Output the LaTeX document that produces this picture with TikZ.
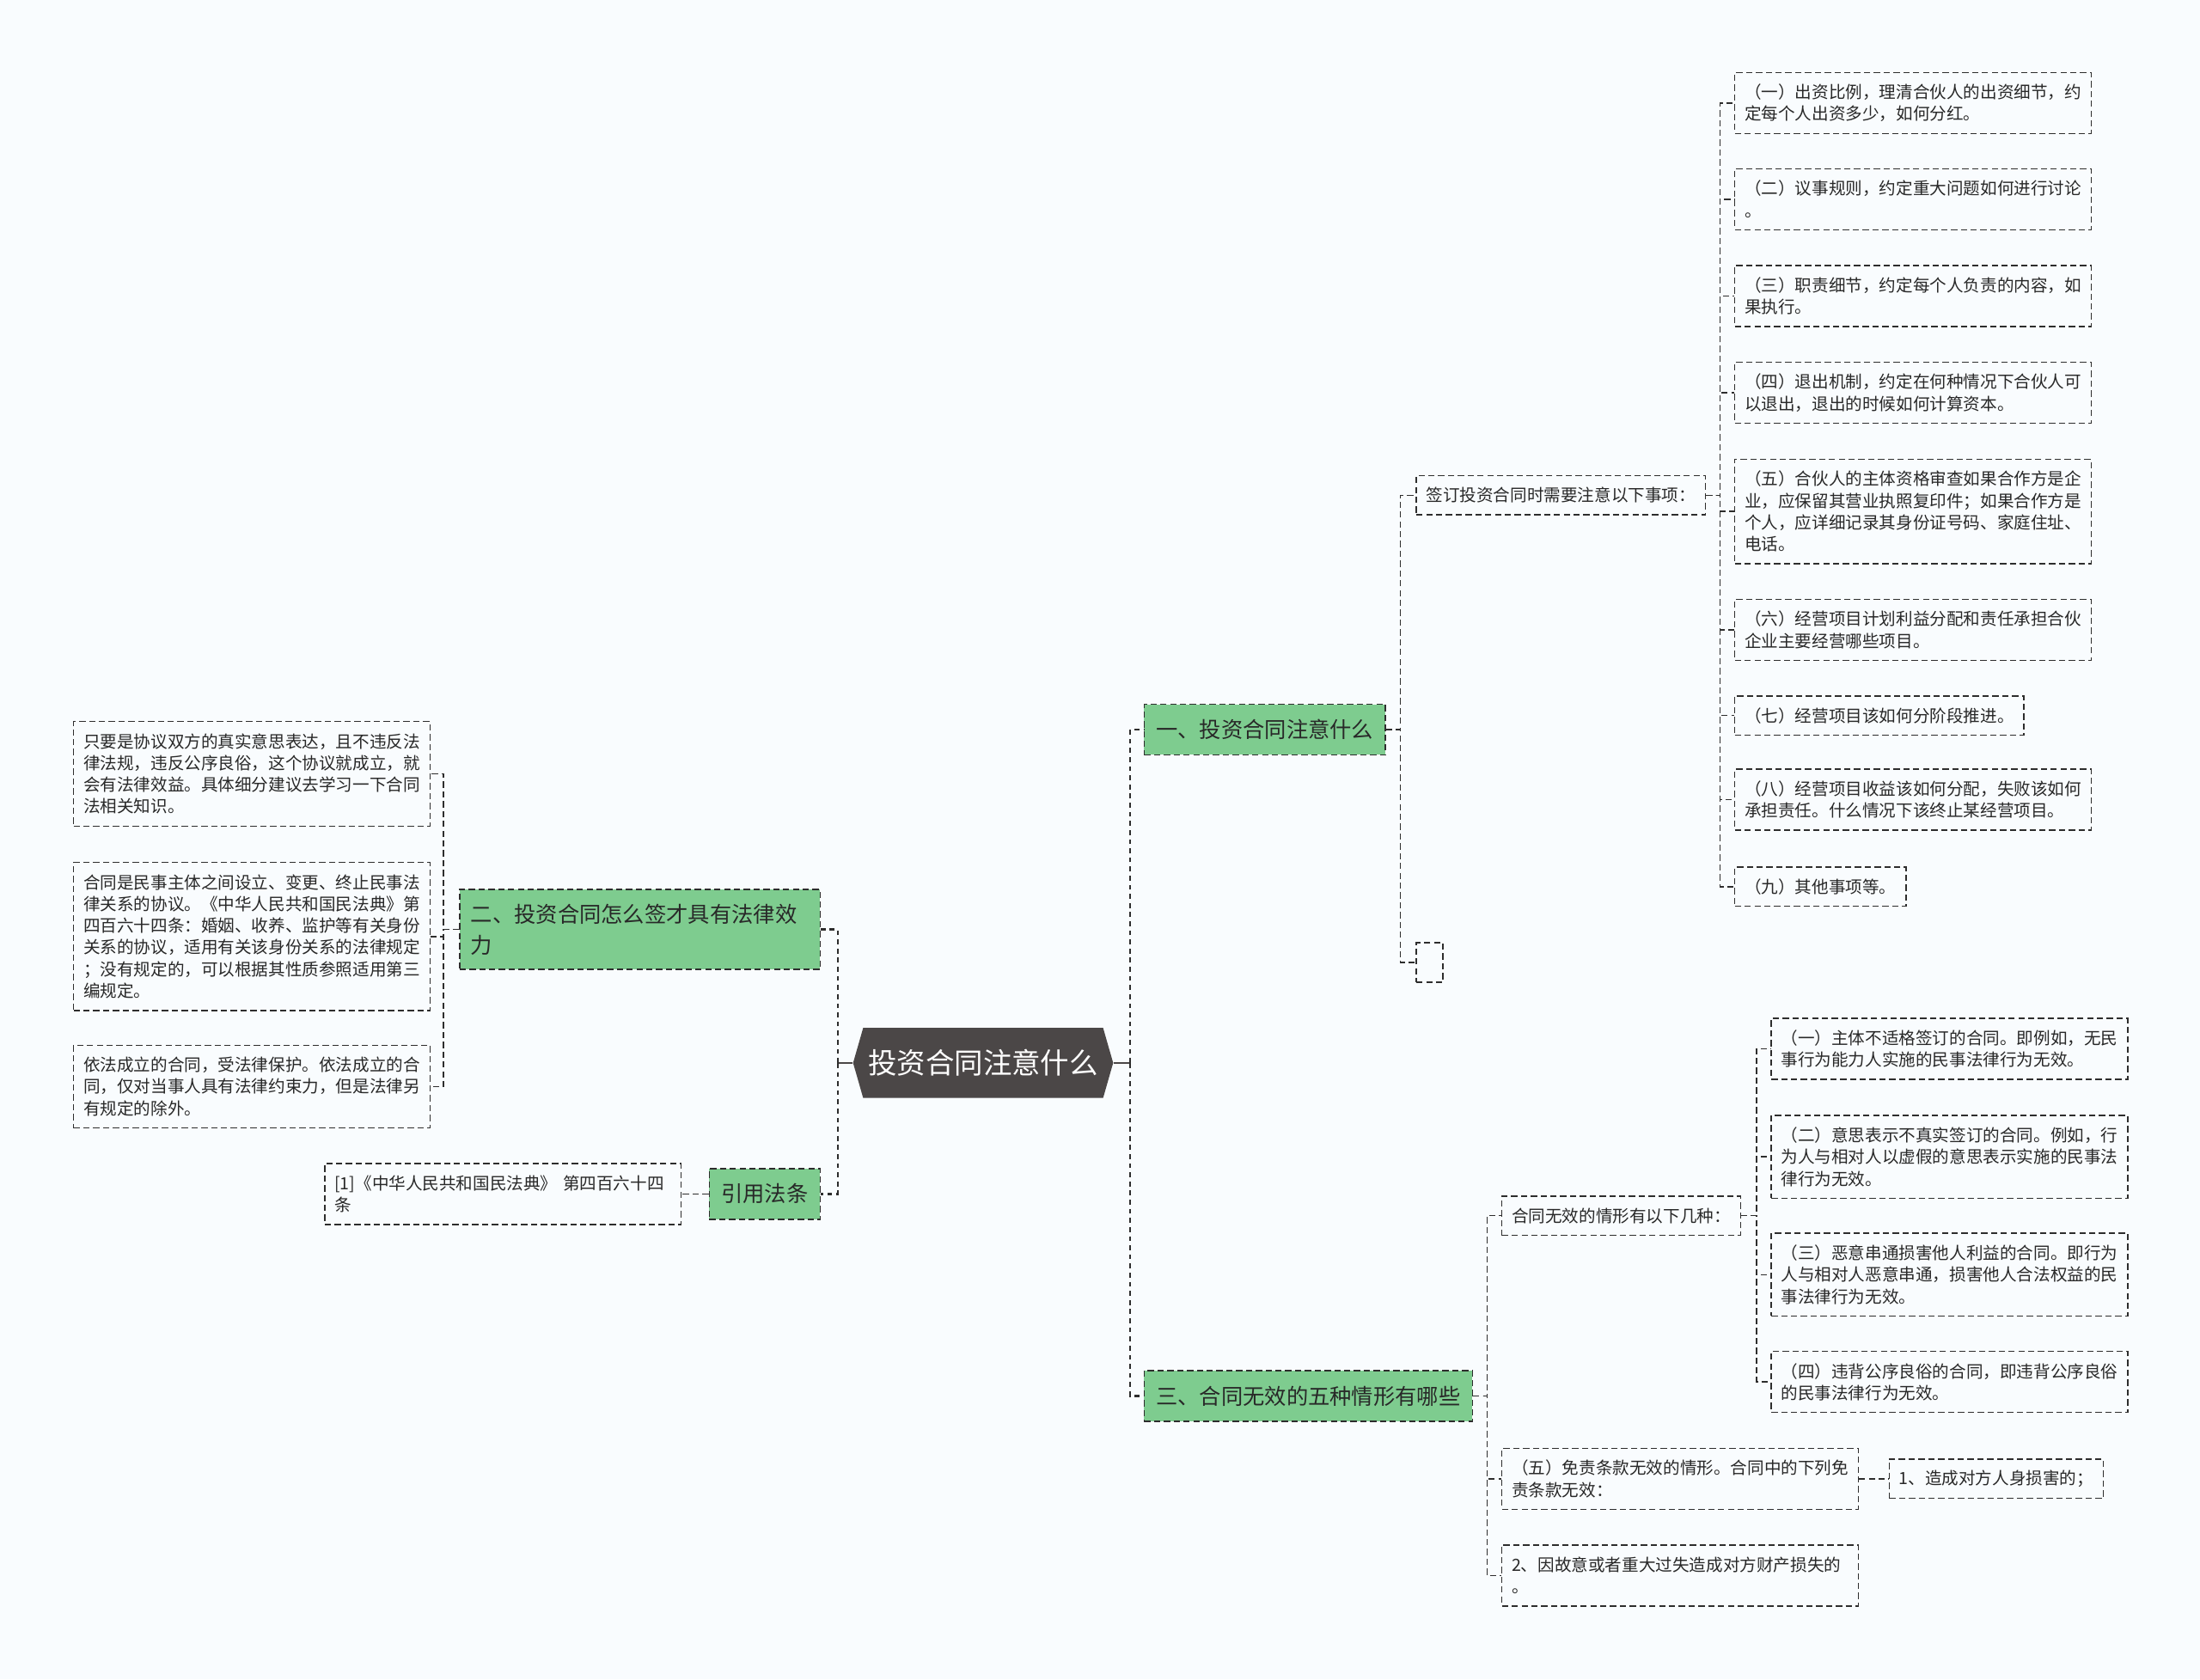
\documentclass[tikz,border=0pt]{standalone}
\usepackage{fontspec}
\setmainfont{Noto Sans CJK SC}
\usetikzlibrary{shapes.symbols}
\definecolor{bgcol}{RGB}{249,252,254}
\definecolor{branchgreen}{RGB}{126,204,143}
\definecolor{rootgray}{RGB}{75,71,71}
\definecolor{linegray}{RGB}{45,45,45}
\definecolor{textgray}{RGB}{40,40,40}

\begin{document}
\begin{tikzpicture}[x=1pt,y=-1pt,
  link/.style={draw=linegray,line width=0.9pt,dash pattern=on 4.5pt off 2.5pt},
  trunk/.style={draw=linegray,line width=1.5pt,dash pattern=on 3.5pt off 3pt},
  rootlink/.style={draw=rootgray,line width=1.6pt},
  leaf/.style={link,anchor=west,align=left,text=textgray,inner xsep=7pt,inner ysep=0pt,font=\fontsize{12}{15.5}\selectfont},
  wide/.style={text width=240pt},
  lines/.style={minimum height=12.5pt+#1*15.5pt},
  branch/.style={link,fill=branchgreen,anchor=west,align=left,text=textgray,inner xsep=8.5pt,inner ysep=0pt,minimum height=36pt,font=\fontsize{15.5}{22}\selectfont},
  root/.style={shape=signal,signal to=west and east,signal pointer angle=148,fill=rootgray,text=white,minimum height=50pt,inner xsep=3.5pt,inner ysep=0pt,font=\fontsize{20.5}{24}\selectfont}]
  \fill[bgcol] (0,0) rectangle (1568,1197);

  \node[root] (root) at (700.7,757.6) {投资合同注意什么};

  \node[branch] (b1) at (815,520) {一、投资合同注意什么};
  \node[branch] (b3) at (815,995) {三、合同无效的五种情形有哪些};
  \node[branch,anchor=east,text width=241pt,minimum height=57pt,inner xsep=8pt] (b2) at (585,662.5) {二、投资合同怎么签才具有法律效\\力};
  \node[branch,anchor=east] (b4) at (585,851) {引用法条};

  \node[leaf,lines=1] (c1) at (1009,353) {签订投资合同时需要注意以下事项：};
  \node[leaf,lines=1,minimum width=19pt] (c2) at (1009,686) {};

  \node[leaf,wide,lines=2] (d1) at (1236,73.5) {（一）出资比例，理清合伙人的出资细节，约\\定每个人出资多少，如何分红。};
  \node[leaf,wide,lines=2] (d2) at (1236,142) {（二）议事规则，约定重大问题如何进行讨论\\。};
  \node[leaf,wide,lines=2] (d3) at (1236,211) {（三）职责细节，约定每个人负责的内容，如\\果执行。};
  \node[leaf,wide,lines=2] (d4) at (1236,280) {（四）退出机制，约定在何种情况下合伙人可\\以退出，退出的时候如何计算资本。};
  \node[leaf,wide,lines=4] (d5) at (1236,364.5) {（五）合伙人的主体资格审查如果合作方是企\\业，应保留其营业执照复印件；如果合作方是\\个人，应详细记录其身份证号码、家庭住址、\\电话。};
  \node[leaf,wide,lines=2] (d6) at (1236,449) {（六）经营项目计划利益分配和责任承担合伙\\企业主要经营哪些项目。};
  \node[leaf,lines=1] (d7) at (1236,510) {（七）经营项目该如何分阶段推进。};
  \node[leaf,wide,lines=2] (d8) at (1236,570) {（八）经营项目收益该如何分配，失败该如何\\承担责任。什么情况下该终止某经营项目。};
  \node[leaf,lines=1] (d9) at (1236,632) {（九）其他事项等。};

  \node[leaf,lines=1] (e1) at (1070,866.5) {合同无效的情形有以下几种：};
  \node[leaf,wide,lines=2] (e2) at (1070,1054) {（五）免责条款无效的情形。合同中的下列免\\责条款无效：};
  \node[leaf,wide,lines=2] (e3) at (1070,1123) {2、因故意或者重大过失造成对方财产损失的\\。};

  \node[leaf,wide,lines=2] (f1) at (1262,747.5) {（一）主体不适格签订的合同。即例如，无民\\事行为能力人实施的民事法律行为无效。};
  \node[leaf,wide,lines=3] (f2) at (1262,824.5) {（二）意思表示不真实签订的合同。例如，行\\为人与相对人以虚假的意思表示实施的民事法\\律行为无效。};
  \node[leaf,wide,lines=3] (f3) at (1262,908.5) {（三）恶意串通损害他人利益的合同。即行为\\人与相对人恶意串通，损害他人合法权益的民\\事法律行为无效。};
  \node[leaf,wide,lines=2] (f4) at (1262,985) {（四）违背公序良俗的合同，即违背公序良俗\\的民事法律行为无效。};

  \node[leaf,lines=1] (g1) at (1346,1054) {1、造成对方人身损害的；};

  \node[leaf,wide,lines=4] (h1) at (52,551.5) {只要是协议双方的真实意思表达，且不违反法\\律法规，违反公序良俗，这个协议就成立，就\\会有法律效益。具体细分建议去学习一下合同\\法相关知识。};
  \node[leaf,wide,lines=6] (h2) at (52,667.5) {合同是民事主体之间设立、变更、终止民事法\\律关系的协议。《中华人民共和国民法典》第\\四百六十四条：婚姻、收养、监护等有关身份\\关系的协议，适用有关该身份关系的法律规定\\；没有规定的，可以根据其性质参照适用第三\\编规定。};
  \node[leaf,wide,lines=3] (h3) at (52,774.5) {依法成立的合同，受法律保护。依法成立的合\\同，仅对当事人具有法律约束力，但是法律另\\有规定的除外。};

  \node[leaf,wide,lines=2] (k1) at (231,851) {[1]《中华人民共和国民法典》 第四百六十四\\条};

  \draw[rootlink] (root.east) -- ++(12,0) coordinate (rbus);
  \draw[trunk] (rbus) |- (b1.west);
  \draw[trunk] (rbus) |- (b3.west);
  \draw[rootlink] (root.west) -- ++(-10.6,0) coordinate (lbus);
  \draw[trunk] (lbus) |- (b2.east);
  \draw[trunk] (lbus) |- (b4.east);

  \draw[link] (b1.east) -- ++(10,0) |- (c1.west);
  \draw[link] (b1.east) -- ++(10,0) |- (c2.west);
  \draw[link] (c1.east) -- ++(10,0) |- (d1.west);
  \draw[link] (c1.east) -- ++(10,0) |- (d2.west);
  \draw[link] (c1.east) -- ++(10,0) |- (d3.west);
  \draw[link] (c1.east) -- ++(10,0) |- (d4.west);
  \draw[link] (c1.east) -- ++(10,0) |- (d5.west);
  \draw[link] (c1.east) -- ++(10,0) |- (d6.west);
  \draw[link] (c1.east) -- ++(10,0) |- (d7.west);
  \draw[link] (c1.east) -- ++(10,0) |- (d8.west);
  \draw[link] (c1.east) -- ++(10,0) |- (d9.west);

  \draw[link] (b3.east) -- ++(10,0) |- (e1.west);
  \draw[link] (b3.east) -- ++(10,0) |- (e2.west);
  \draw[link] (b3.east) -- ++(10,0) |- (e3.west);
  \draw[link] (e1.east) -- ++(11,0) |- (f1.west);
  \draw[link] (e1.east) -- ++(11,0) |- (f2.west);
  \draw[link] (e1.east) -- ++(11,0) |- (f3.west);
  \draw[link] (e1.east) -- ++(11,0) |- (f4.west);
  \draw[link] (e2.east) -- (g1.west);

  \draw[link] (b2.west) -- ++(-11,0) |- (h1.east);
  \draw[link] (b2.west) -- ++(-11,0) |- (h2.east);
  \draw[link] (b2.west) -- ++(-11,0) |- (h3.east);
  \draw[link] (b4.west) -- (k1.east);
\end{tikzpicture}
\end{document}
